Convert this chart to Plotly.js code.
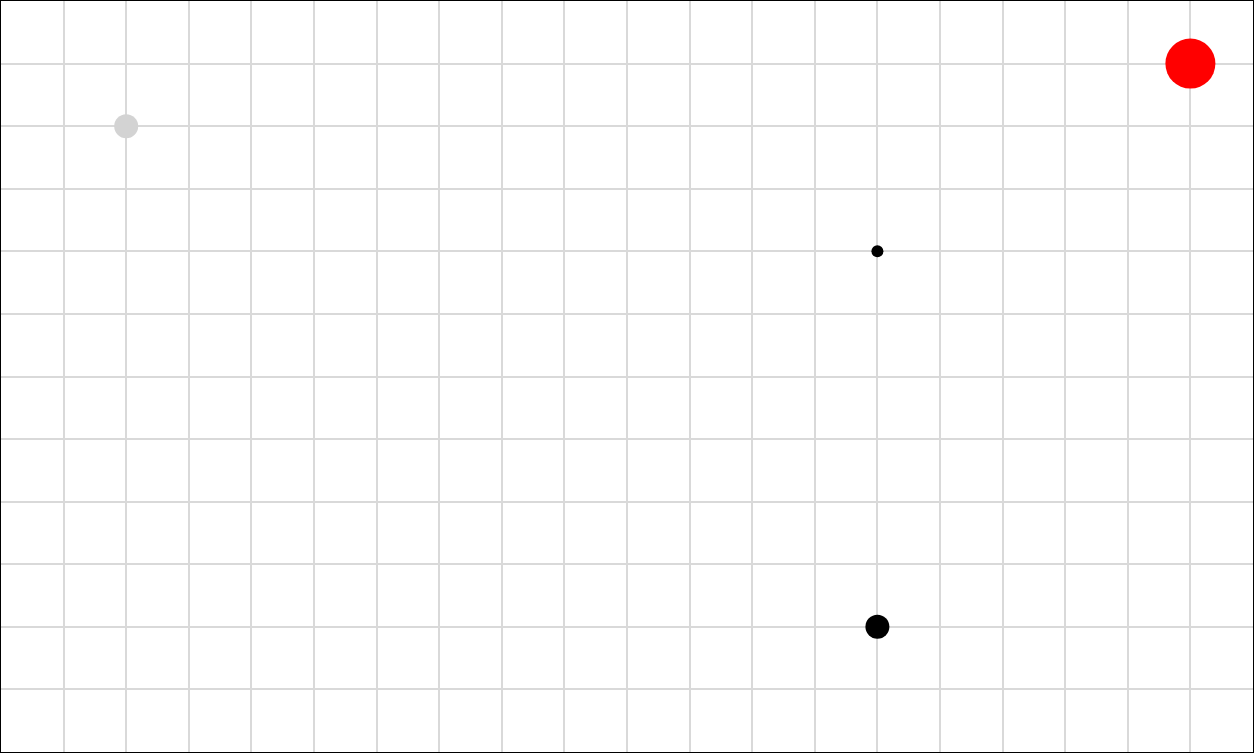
<!DOCTYPE html>
<html>
<head>
<meta charset="utf-8">
<script src="https://cdn.plot.ly/plotly-3.0.1.min.js"></script>
<style>html,body{margin:0;padding:0;background:#fff;}#chart{width:1255px;height:755px;}</style>
</head>
<body>
<div id="chart"></div>
<script>
const xValues = [2, 19, 14, 14];
const yValues = [10, 11, 8, 2];
const markerSizes = [24, 50, 12, 24];
const markerColors = ['#d3d3d3', '#ff0000', '#000000', '#000000'];

const trace = {
  type: 'scatter',
  mode: 'markers',
  x: xValues,
  y: yValues,
  marker: {size: markerSizes, color: markerColors, opacity: 1, line: {width: 0}},
  hoverinfo: 'x+y'
};

const axisCommon = {
  showgrid: true,
  gridcolor: '#d9d9d9',
  gridwidth: 2,
  dtick: 1,
  tick0: 0,
  showticklabels: false,
  ticks: '',
  zeroline: false,
  showline: true,
  mirror: true,
  linecolor: '#000000',
  linewidth: 1,
  fixedrange: true
};

const layout = {
  width: 1255,
  height: 755,
  margin: {l: 1, r: 2, t: 1, b: 3, pad: 0, autoexpand: false},
  paper_bgcolor: '#ffffff',
  plot_bgcolor: '#ffffff',
  showlegend: false,
  xaxis: Object.assign({}, axisCommon, {range: [0, 20]}),
  yaxis: Object.assign({}, axisCommon, {range: [0, 12]})
};

Plotly.newPlot('chart', [trace], layout, {displayModeBar: false, staticPlot: true});
</script>
</body>
</html>
